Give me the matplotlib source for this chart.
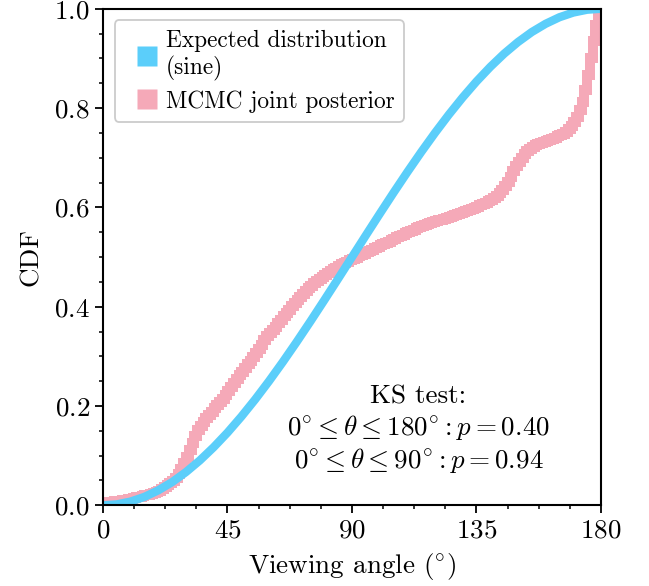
import numpy as np
import matplotlib
matplotlib.use("Agg")
import matplotlib.pyplot as plt
from matplotlib.lines import Line2D
from matplotlib.ticker import MultipleLocator

plt.rcParams["font.family"] = "serif"
plt.rcParams["font.serif"] = ["cmr10"]
plt.rcParams["mathtext.fontset"] = "cm"
plt.rcParams["axes.formatter.use_mathtext"] = True

# Expected (isotropic, sine-weighted) CDF tabulated every 5 degrees
sine_angles = np.arange(0, 181, 5)
sine_cdf = [
    0.0000, 0.0019, 0.0076, 0.0170, 0.0302, 0.0468, 0.0670, 0.0904, 0.1170,
    0.1464, 0.1786, 0.2132, 0.2500, 0.2887, 0.3290, 0.3706, 0.4132, 0.4564,
    0.5000, 0.5436, 0.5868, 0.6294, 0.6710, 0.7113, 0.7500, 0.7868, 0.8214,
    0.8536, 0.8830, 0.9096, 0.9330, 0.9532, 0.9698, 0.9830, 0.9924, 0.9981,
    1.0000,
]

# Cumulative MCMC posterior, 1-degree bins
bin_edges = np.arange(0, 181, 1)
mcmc_cdf = [
    0.005, 0.006, 0.006, 0.007, 0.008, 0.008, 0.009, 0.010, 0.011, 0.012,
    0.013, 0.014, 0.016, 0.017, 0.018, 0.020, 0.021, 0.023, 0.024, 0.026,
    0.029, 0.032, 0.036, 0.040, 0.044, 0.049, 0.055, 0.063, 0.073, 0.085,
    0.098, 0.112, 0.126, 0.140, 0.151, 0.160, 0.168, 0.175, 0.182, 0.188,
    0.195, 0.202, 0.209, 0.215, 0.222, 0.230, 0.238, 0.246, 0.254, 0.262,
    0.269, 0.276, 0.284, 0.291, 0.298, 0.306, 0.315, 0.323, 0.332, 0.340,
    0.347, 0.354, 0.360, 0.367, 0.374, 0.381, 0.388, 0.394, 0.401, 0.408,
    0.414, 0.420, 0.426, 0.431, 0.437, 0.442, 0.447, 0.451, 0.456, 0.460,
    0.464, 0.468, 0.471, 0.475, 0.478, 0.481, 0.485, 0.488, 0.491, 0.494,
    0.497, 0.499, 0.502, 0.504, 0.507, 0.510, 0.513, 0.515, 0.518, 0.521,
    0.524, 0.526, 0.529, 0.531, 0.534, 0.537, 0.540, 0.542, 0.545, 0.548,
    0.550, 0.553, 0.555, 0.558, 0.560, 0.562, 0.564, 0.566, 0.568, 0.570,
    0.572, 0.574, 0.575, 0.577, 0.579, 0.581, 0.583, 0.584, 0.586, 0.588,
    0.590, 0.592, 0.594, 0.597, 0.599, 0.601, 0.604, 0.606, 0.609, 0.612,
    0.615, 0.619, 0.623, 0.629, 0.636, 0.643, 0.652, 0.662, 0.673, 0.684,
    0.692, 0.700, 0.707, 0.713, 0.718, 0.722, 0.725, 0.728, 0.730, 0.732,
    0.734, 0.736, 0.738, 0.740, 0.743, 0.745, 0.748, 0.752, 0.757, 0.763,
    0.771, 0.782, 0.796, 0.812, 0.837, 0.866, 0.900, 0.935, 0.968, 1.000,
]

ks_text = ("KS test:\n"
           r"$0^{\circ} \leq \theta \leq 180^{\circ}: p = 0.40$" "\n"
           r"$0^{\circ} \leq \theta \leq 90^{\circ}: p = 0.94$")

blue = "#5BCEFA"
pink = "#F5A9B8"

fig = plt.figure(figsize=(6.49, 5.86), dpi=100)
ax = fig.add_axes([0.1587, 0.1377, 0.926 - 0.1587, 0.985 - 0.1377])

ax.stairs(mcmc_cdf, bin_edges, baseline=None, color=pink, linewidth=7.2)
ax.plot(sine_angles, sine_cdf, color=blue, linewidth=6, solid_capstyle="butt")

ax.set_xlim(0, 180)
ax.set_ylim(0, 1)
ax.xaxis.set_major_locator(MultipleLocator(45))
ax.xaxis.set_minor_locator(MultipleLocator(11.25))
ax.yaxis.set_major_locator(MultipleLocator(0.2))
ax.yaxis.set_minor_locator(MultipleLocator(0.05))
ax.tick_params(which="major", direction="out", length=6, width=1.3, labelsize=19.5)
ax.tick_params(which="minor", direction="out", length=3.2, width=1.1)
for s in ax.spines.values():
    s.set_linewidth(1.5)

ax.set_xlabel(r"Viewing angle $(^{\circ})$", fontsize=19.5, labelpad=6)
ax.set_ylabel("CDF", fontsize=19.5, labelpad=8)

ax.text(114, 0.152, ks_text, ha="center", va="center", fontsize=19.5,
        multialignment="center", linespacing=1.18)

handles = [
    Line2D([], [], linestyle="none", marker="s", markersize=13.7,
           markerfacecolor=blue, markeredgecolor="none"),
    Line2D([], [], linestyle="none", marker="s", markersize=13.7,
           markerfacecolor=pink, markeredgecolor="none"),
]
leg = ax.legend(handles, ["Expected distribution\n(sine)", "MCMC joint posterior"],
                loc="upper left", fontsize=16.8, handlelength=2.0,
                handletextpad=-0.2, borderpad=0.4, labelspacing=0.4,
                framealpha=1.0, fancybox=True)
leg.get_frame().set_edgecolor("#cccccc")
leg.get_frame().set_linewidth(1.3)

fig.savefig("out.png", dpi=100)
